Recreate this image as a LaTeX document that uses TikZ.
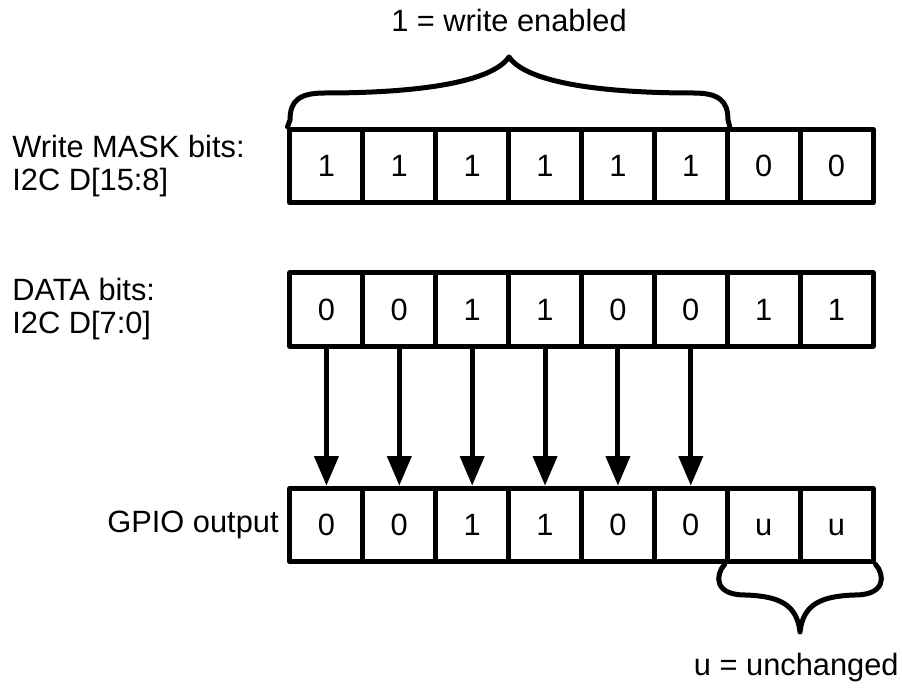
\documentclass[tikz,border=0pt]{standalone}
\usepackage{fontspec}
\setmainfont{Liberation Sans}
\usetikzlibrary{arrows.meta}
\begin{document}
\begin{tikzpicture}[x=0.5pt,y=-0.5pt,
  cell/.style={draw,line width=2.5pt,line join=round,minimum width=36.44pt,minimum height=36.75pt,inner sep=0pt,text height=11pt,text depth=0pt,font=\fontsize{15.4}{17}\selectfont},
  lbl/.style={inner sep=0pt,align=left,font=\fontsize{15.4}{16.8}\selectfont},
  arr/.style={line width=2.5pt,-{Triangle[width=11.8pt,length=14.8pt]}},
  brc/.style={line width=2.5pt,line cap=round,line join=round}]
\useasboundingbox (0,0) rectangle (902,689);
\foreach \v [count=\i] in {1,1,1,1,1,1,0,0} { \node[cell] (m\i) at ({290+72.875*(\i-0.5)},166) {\v}; }
\foreach \v [count=\i] in {0,0,1,1,0,0,1,1} { \node[cell] (d\i) at ({290+72.875*(\i-0.5)},309.5) {\v}; }
\foreach \v [count=\i] in {0,0,1,1,0,0,u,u} { \node[cell] (g\i) at ({290+72.875*(\i-0.5)},525) {\v}; }
\foreach \i in {1,...,6} { \draw[arr] (d\i.south) -- (g\i.north); }
\node[lbl,anchor=west] (lm) at (12,166) {Write MASK bits:\\I2C D[15:8]};
\node[lbl,anchor=west] (ld) at (12,309) {DATA bits:\\I2C D[7:0]};
\node[lbl,anchor=base east] (lg) at (279,533) {GPIO output};
\node[lbl,anchor=base] (tw) at (509,32) {1 = write enabled};
\node[lbl,anchor=base east] (tu) at (899,676) {u = unchanged};
\draw[brc] (m1.north west) -- (290,120) .. controls (290,100) and (300,93) .. (325,93)
  .. controls (420,93) and (492,82) .. (509,57)
  .. controls (526,82) and (598,93) .. (693,93)
  .. controls (718,93) and (728,100) .. (728,120) -- (m6.north east);
\draw[brc] (g7.south west) .. controls (715,575) and (714,595) .. (745,595)
  .. controls (780,596) and (797,605) .. (800,632)
  .. controls (803,605) and (820,596) .. (855,595)
  .. controls (886,595) and (885,575) .. (g8.south east);
\end{tikzpicture}
\end{document}
